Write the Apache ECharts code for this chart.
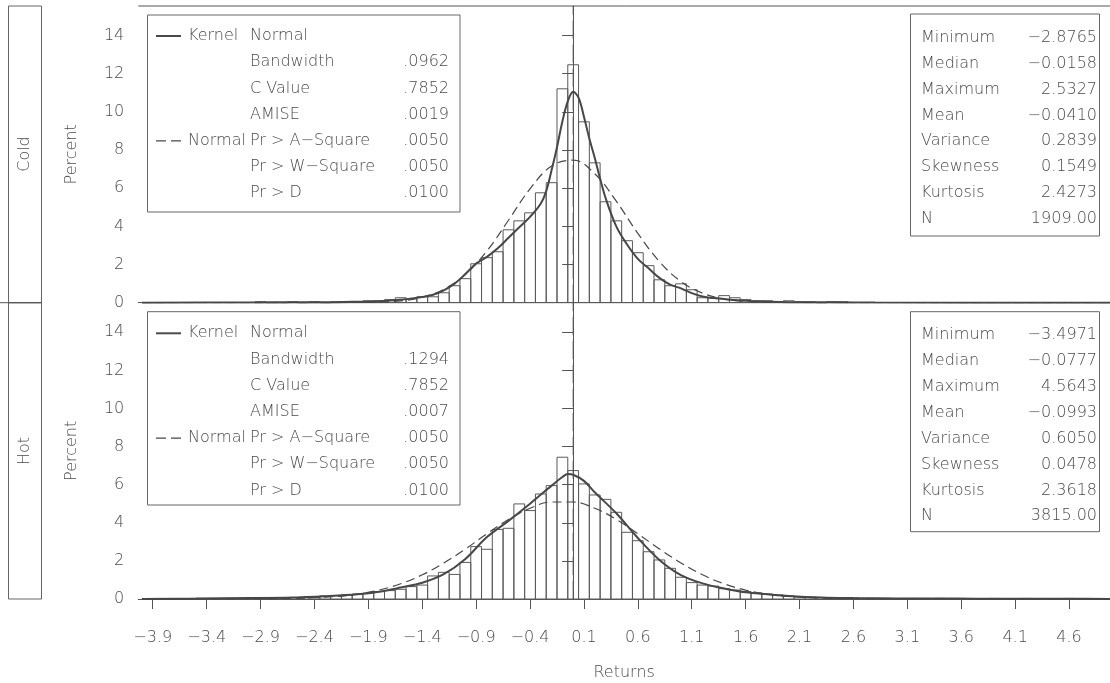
<!doctype html>
<html lang="en">
<head>
    <meta charset="UTF-8">
    <script src="https://cdn.jsdelivr.net/npm/echarts@6.0.0/dist/echarts.min.js"></script>
    <title>Returns by temperature</title>
    <style>
        html, body { margin: 0; padding: 0; background: #fff; }
    </style>
</head>
<body>
<div id="main" style="width: 1110px;height:683px;"></div>
<script>
    // histogram bins (midpoints), percent per bin
    var coldBins = [-2.9, -2.8, -2.7, -2.6, -2.5, -2.4, -2.3, -2.2, -2.1, -2.0, -1.9, -1.8, -1.7, -1.6, -1.5, -1.4,
        -1.3, -1.2, -1.1, -1.0, -0.9, -0.8, -0.7, -0.6, -0.5, -0.4, -0.3, -0.2, -0.1, 0, 0.1, 0.2, 0.3, 0.4, 0.5,
        0.6, 0.7, 0.8, 0.9, 1.0, 1.1, 1.2, 1.3, 1.4, 1.5, 1.6, 1.7, 1.8, 1.9, 2.0, 2.1, 2.2, 2.3, 2.4, 2.5];
    var coldPct = [0.05, 0, 0, 0.05, 0, 0.05, 0, 0.05, 0.05, 0.05, 0.1, 0.1, 0.16, 0.26, 0.21, 0.31,
        0.31, 0.52, 0.89, 1.26, 2.04, 2.36, 2.67, 3.82, 4.29, 4.71, 5.76, 6.29, 11.21, 12.47, 9.48, 7.33, 5.29, 4.29, 3.25,
        2.62, 1.94, 1.2, 0.89, 0.99, 0.68, 0.26, 0.26, 0.37, 0.26, 0.16, 0.1, 0.1, 0.05, 0.1, 0.05, 0.05, 0, 0.05, 0.05];

    var hotBins = [-3.5, -3.4, -3.3, -3.2, -3.1, -3.0, -2.9, -2.8, -2.7, -2.6, -2.5, -2.4, -2.3, -2.2, -2.1, -2.0,
        -1.9, -1.8, -1.7, -1.6, -1.5, -1.4, -1.3, -1.2, -1.1, -1.0, -0.9, -0.8, -0.7, -0.6, -0.5, -0.4, -0.3, -0.2, -0.1,
        0, 0.1, 0.2, 0.3, 0.4, 0.5, 0.6, 0.7, 0.8, 0.9, 1.0, 1.1, 1.2, 1.3, 1.4, 1.5, 1.6, 1.7, 1.8, 1.9, 2.0,
        2.1, 2.2, 2.3, 2.4, 2.5, 2.6, 2.7, 2.8, 2.9, 3.0, 3.1, 3.2, 3.3, 3.4, 3.5, 3.6, 3.7, 3.8, 3.9, 4.0,
        4.1, 4.2, 4.3, 4.4, 4.5, 4.6];
    var hotPct = [0.03, 0, 0, 0.03, 0, 0.03, 0.08, 0.05, 0.05, 0.08, 0.1, 0.1, 0.16, 0.18, 0.21, 0.26,
        0.31, 0.39, 0.44, 0.51, 0.65, 0.73, 1.21, 1.40, 1.29, 1.92, 2.75, 2.61, 3.65, 3.71, 4.99, 4.64, 5.51, 5.95, 7.44,
        6.74, 6.04, 5.46, 5.23, 4.55, 3.50, 3.06, 2.48, 2.05, 1.61, 1.14, 0.86, 0.73, 0.68, 0.54, 0.47, 0.39, 0.31, 0.26, 0.21, 0.16,
        0.13, 0.1, 0.08, 0.05, 0.05, 0.05, 0.03, 0.03, 0.03, 0, 0.03, 0.03, 0, 0.03, 0, 0.03, 0, 0, 0.03, 0,
        0, 0.03, 0, 0, 0, 0.03];

    // fitted curves, [return, percent]
    var coldKernel = [[-4.0, 0], [-3.0, 0.01], [-2.6, 0.03], [-2.2, 0.03], [-2.0, 0.05], [-1.8, 0.08], [-1.6, 0.15],
        [-1.5, 0.22], [-1.4, 0.3], [-1.3, 0.42], [-1.2, 0.65], [-1.1, 1.0], [-1.0, 1.5], [-0.9, 2.05], [-0.8, 2.4],
        [-0.7, 2.85], [-0.6, 3.4], [-0.5, 3.95], [-0.4, 4.5], [-0.3, 5.2], [-0.25, 5.85], [-0.2, 6.95], [-0.15, 8.15],
        [-0.1, 9.5], [-0.05, 10.55], [0, 11.05], [0.05, 10.75], [0.1, 9.75], [0.15, 8.6], [0.2, 7.6], [0.25, 6.5],
        [0.3, 5.5], [0.4, 4.0], [0.5, 3.05], [0.6, 2.3], [0.7, 1.8], [0.8, 1.3], [0.9, 0.95], [1.0, 0.75], [1.1, 0.5],
        [1.2, 0.32], [1.3, 0.24], [1.4, 0.2], [1.5, 0.14], [1.7, 0.07], [2.0, 0.03], [2.4, 0.02], [2.8, 0.005], [5.0, 0]];
    var coldNormal = [[-4.0, 0], [-2.0, 0.01], [-1.6, 0.1], [-1.4, 0.29], [-1.2, 0.7], [-1.0, 1.48], [-0.8, 2.71],
        [-0.6, 4.32], [-0.4, 5.97], [-0.2, 7.16], [0, 7.47], [0.2, 6.76], [0.4, 5.32], [0.6, 3.63], [0.8, 2.16],
        [1.0, 1.11], [1.2, 0.5], [1.4, 0.19], [1.6, 0.07], [2.0, 0.01], [5.0, 0]];
    var hotKernel = [[-4.0, 0], [-3.5, 0.02], [-3.0, 0.05], [-2.6, 0.08], [-2.3, 0.15], [-2.0, 0.25], [-1.8, 0.38],
        [-1.6, 0.6], [-1.4, 0.85], [-1.2, 1.3], [-1.0, 2.1], [-0.8, 3.25], [-0.6, 4.1], [-0.4, 5.0], [-0.2, 5.95],
        [-0.1, 6.4], [-0.05, 6.56], [0, 6.52], [0.1, 6.2], [0.2, 5.6], [0.4, 4.5], [0.6, 3.2], [0.8, 2.05],
        [1.0, 1.25], [1.2, 0.82], [1.4, 0.55], [1.6, 0.35], [1.8, 0.25], [2.0, 0.16], [2.3, 0.08], [2.6, 0.05],
        [3.0, 0.03], [3.5, 0.02], [4.0, 0.015], [4.6, 0.01], [5.0, 0]];
    var hotNormal = [[-4.0, 0], [-3.0, 0.005], [-2.6, 0.03], [-2.2, 0.13], [-2.0, 0.26], [-1.8, 0.47], [-1.6, 0.8],
        [-1.4, 1.27], [-1.2, 1.89], [-1.0, 2.62], [-0.8, 3.42], [-0.6, 4.17], [-0.4, 4.76], [-0.2, 5.09], [0, 5.09],
        [0.2, 4.76], [0.4, 4.18], [0.6, 3.42], [0.8, 2.63], [1.0, 1.89], [1.2, 1.27], [1.4, 0.8], [1.6, 0.47],
        [1.8, 0.26], [2.0, 0.13], [2.4, 0.03], [2.8, 0.005], [5.0, 0]];

    // vertical reference at zero return
    var refLine = [[0, 0], [0, 15.55]];

    var xTicks = [-3.9, -3.4, -2.9, -2.4, -1.9, -1.4, -0.9, -0.4, 0.1, 0.6, 1.1, 1.6, 2.1, 2.6, 3.1, 3.6, 4.1, 4.6];
    var yTicks = [0, 2, 4, 6, 8, 10, 12, 14];

    var fitNames = ['Bandwidth', 'C Value', 'AMISE', 'Pr > A\u2212Square', 'Pr > W\u2212Square', 'Pr > D'];
    var coldFit = ['.0962', '.7852', '.0019', '.0050', '.0050', '.0100'];
    var hotFit = ['.1294', '.7852', '.0007', '.0050', '.0050', '.0100'];

    var statNames = ['Minimum', 'Median', 'Maximum', 'Mean', 'Variance', 'Skewness', 'Kurtosis', 'N'];
    var coldStats = ['\u22122.8765', '\u22120.0158', '2.5327', '\u22120.0410', '0.2839', '0.1549', '2.4273', '1909.00'];
    var hotStats = ['\u22123.4971', '\u22120.0777', '4.5643', '\u22120.0993', '0.6050', '0.0478', '2.3618', '3815.00'];

    var binWidth = 0.1;
    var ink = '#4a4a4a';
    var font = 'DejaVu Sans';
    var fs = 16;
    var cssFont = 'lighter ' + fs + 'px "' + font + '"';

    var myChart = echarts.init(document.getElementById('main'));

    function pairs(xs, ys) {
        var out = [];
        for (var i = 0; i < xs.length; i++) out.push([xs[i], ys[i]]);
        return out;
    }

    // each bar spans one bin, drawn through the axis scales
    function histItem(params, api) {
        var x = api.value(0), y = api.value(1);
        var p0 = api.coord([x - binWidth / 2, y]);
        var p1 = api.coord([x + binWidth / 2, 0]);
        return {
            type: 'rect',
            shape: {x: p0[0], y: p0[1], width: p1[0] - p0[0], height: p1[1] - p0[1]},
            style: {fill: 'none', stroke: '#5a5a5a', lineWidth: 1}
        };
    }

    function minus(v) {
        return String(v).replace('-', '\u2212');
    }

    function txt(x, y, s, align) {
        return {
            type: 'text', x: x, y: y,
            style: {text: s, fill: ink, font: cssFont, textAlign: align || 'left', textVerticalAlign: 'middle'}
        };
    }

    function box(x, y, w, h) {
        return {type: 'rect', shape: {x: x, y: y, width: w, height: h},
            style: {fill: '#fff', stroke: '#666', lineWidth: 1}};
    }

    function fitBox(top, rowTop, h, vals) {
        var els = [box(147.5, top, 312.5, h)];
        var step = 26.2;
        els.push({type: 'line', shape: {x1: 156, y1: rowTop, x2: 181, y2: rowTop},
            style: {stroke: ink, lineWidth: 2}});
        els.push(txt(188, rowTop, 'Kernel'));
        els.push(txt(250, rowTop, 'Normal'));
        els.push({type: 'line', shape: {x1: 156, y1: rowTop + 4 * step, x2: 181, y2: rowTop + 4 * step},
            style: {stroke: ink, lineWidth: 1.2, lineDash: [10, 5]}});
        els.push(txt(188, rowTop + 4 * step, 'Normal'));
        for (var i = 0; i < fitNames.length; i++) {
            els.push(txt(250, rowTop + (i + 1) * step, fitNames[i]));
            els.push(txt(449, rowTop + (i + 1) * step, vals[i], 'right'));
        }
        return els;
    }

    function statBox(top, rowTop, h, vals) {
        var els = [box(910.5, top, 189, h)];
        var step = 25.9;
        for (var i = 0; i < statNames.length; i++) {
            els.push(txt(921, rowTop + i * step, statNames[i]));
            els.push(txt(1097, rowTop + i * step, vals[i], 'right'));
        }
        return els;
    }

    var graphics = [
        // panel strip labels
        {type: 'rect', shape: {x: 8.5, y: 6, width: 33, height: 296.7}, style: {fill: 'none', stroke: '#666'}},
        {type: 'rect', shape: {x: 8.5, y: 302.7, width: 33, height: 296.3}, style: {fill: 'none', stroke: '#666'}},
        {type: 'line', shape: {x1: 0, y1: 302.7, x2: 41.5, y2: 302.7}, style: {stroke: '#555'}},
        {type: 'text', x: 25, y: 154, rotation: Math.PI / 2,
            style: {text: 'Cold', fill: ink, font: cssFont, textAlign: 'center', textVerticalAlign: 'middle'}},
        {type: 'text', x: 25, y: 451, rotation: Math.PI / 2,
            style: {text: 'Hot', fill: ink, font: cssFont, textAlign: 'center', textVerticalAlign: 'middle'}},
        // frame top
        {type: 'line', shape: {x1: 138.3, y1: 6, x2: 1110, y2: 6}, style: {stroke: '#555'}}
    ];
    graphics = graphics.concat(fitBox(15, 36, 197, coldFit), fitBox(311.7, 333.3, 193.3, hotFit),
        statBox(14, 37.7, 222, coldStats), statBox(311.7, 335, 220, hotStats));

    function yAxis(gridIndex) {
        return {
            type: 'value', gridIndex: gridIndex, min: 0, max: 15.55,
            name: 'Percent', nameLocation: 'middle', nameGap: 58, nameRotate: 90,
            nameTextStyle: {color: ink, fontFamily: font, fontSize: fs, fontWeight: 'lighter'},
            axisLine: {show: true, lineStyle: {color: '#555', width: 1}},
            axisTick: {show: true, length: 11, customValues: yTicks, lineStyle: {color: '#555'}},
            axisLabel: {show: true, customValues: yTicks, margin: 14, color: ink, fontFamily: font,
                fontSize: fs, fontWeight: 'lighter'},
            splitLine: {show: false}
        };
    }

    var curveStyle = {color: '#474747', width: 2};
    var normStyle = {color: '#474747', width: 1.2, type: [9, 5]};
    var refStyle = {color: '#555', width: 1, type: [18, 6]};

    var option = {
        backgroundColor: '#fff',
        animation: false,
        grid: [
            {left: 138.3, top: 6, width: 971.7, height: 296.7},
            {left: 138.3, top: 302.7, width: 971.7, height: 296.3}
        ],
        xAxis: [
            {
                type: 'value', gridIndex: 0, min: -4.034, max: 4.98,
                axisLine: {show: true, lineStyle: {color: '#555', width: 1}},
                axisTick: {show: false}, axisLabel: {show: false}, splitLine: {show: false}
            },
            {
                type: 'value', gridIndex: 1, min: -4.034, max: 4.98,
                name: 'Returns', nameLocation: 'middle', nameGap: 66,
                nameTextStyle: {color: ink, fontFamily: font, fontSize: fs, fontWeight: 'lighter'},
                axisLine: {show: true, lineStyle: {color: '#555', width: 1}},
                axisTick: {show: true, length: 10, customValues: xTicks, lineStyle: {color: '#555'}},
                axisLabel: {show: true, customValues: xTicks, margin: 31, color: ink, fontFamily: font,
                    fontSize: fs, fontWeight: 'lighter',
                    formatter: function (v) { return minus(v.toFixed(1)); }},
                splitLine: {show: false}
            }
        ],
        yAxis: [yAxis(0), yAxis(1)],
        graphic: graphics,
        series: [
            {name: 'Cold', type: 'custom', xAxisIndex: 0, yAxisIndex: 0, renderItem: histItem,
                data: pairs(coldBins, coldPct), z: 2},
            {name: 'Cold Zero', type: 'line', xAxisIndex: 0, yAxisIndex: 0, data: refLine,
                symbol: 'none', lineStyle: refStyle, z: 4},
            {name: 'Cold Kernel', type: 'line', xAxisIndex: 0, yAxisIndex: 0, data: coldKernel,
                smooth: 0.35, symbol: 'none', lineStyle: curveStyle, z: 3},
            {name: 'Cold Normal', type: 'line', xAxisIndex: 0, yAxisIndex: 0, data: coldNormal,
                smooth: 0.4, symbol: 'none', lineStyle: normStyle, z: 3},
            {name: 'Hot', type: 'custom', xAxisIndex: 1, yAxisIndex: 1, renderItem: histItem,
                data: pairs(hotBins, hotPct), z: 2},
            {name: 'Hot Zero', type: 'line', xAxisIndex: 1, yAxisIndex: 1, data: refLine,
                symbol: 'none', lineStyle: refStyle, z: 4},
            {name: 'Hot Kernel', type: 'line', xAxisIndex: 1, yAxisIndex: 1, data: hotKernel,
                smooth: 0.35, symbol: 'none', lineStyle: curveStyle, z: 3},
            {name: 'Hot Normal', type: 'line', xAxisIndex: 1, yAxisIndex: 1, data: hotNormal,
                smooth: 0.4, symbol: 'none', lineStyle: normStyle, z: 3}
        ]
    };

    myChart.setOption(option);
</script>
</body>
</html>
